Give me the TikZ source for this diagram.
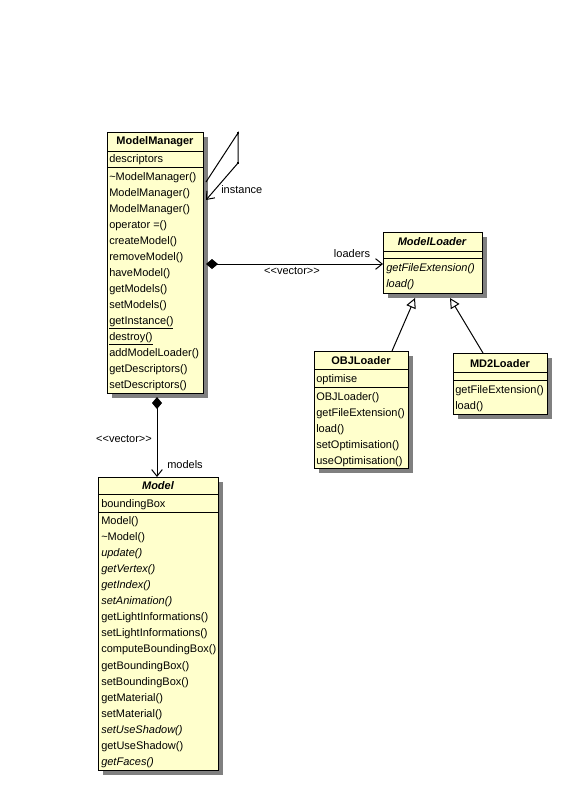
\documentclass[tikz,border=0pt]{standalone}
\usepackage{fontspec}
\setmainfont{Liberation Sans}
\usetikzlibrary{arrows.meta,shadows}
\definecolor{clsfill}{RGB}{255,255,204}
\definecolor{shadowgray}{RGB}{128,128,128}
\newcommand\crow[4]{\node[rowtxt] (#1) at (#2,{#3+4}) {#4};}
\newcommand\ctitle[4]{\node[titletxt] (#1) at (#2,{#3+4}) {#4};}
\newcommand\clsbox[5]{\node[cls, minimum width={(#4-#2)*0.75pt}, minimum height={(#5-#3)*0.75pt}] (#1) at (#2,#3) {};}
\newcommand\csep[3]{\draw[sepline] (#1,#3) -- (#2,#3);}
\newcommand\stereovec{<\kern0pt<vector>\kern0pt>}
\begin{document}
\begin{tikzpicture}[x=0.75pt,y=-0.75pt,
  cls/.style={draw=black, line width=0.75pt, fill=clsfill, anchor=north west, inner sep=0pt,
    drop shadow={shadow xshift=3pt, shadow yshift=-3pt, opacity=1, fill=shadowgray}},
  sepline/.style={line width=0.75pt, draw=black},
  rowtxt/.style={anchor=base west, inner sep=0pt, font=\fontsize{8.25}{10}\selectfont},
  titletxt/.style={anchor=base, inner sep=0pt, font=\fontsize{8.25}{10}\selectfont\bfseries},
  lbl/.style={anchor=base, inner sep=0pt, font=\fontsize{8.25}{10}\selectfont},
  conn/.style={line width=0.75pt, draw=black},
  openarr/.style={-{Straight Barb[length=5pt,width=8pt]}},
  compo/.style={{Diamond[length=9pt,width=7.5pt]}-{Straight Barb[length=5pt,width=8pt]}},
  gener/.style={-{Triangle[open,length=7.5pt,width=7.5pt,fill=white]}}
]
\useasboundingbox (0,0) rectangle (562,786);
\fill[white] (0,0) rectangle (562,786);

% ModelManager
\clsbox{mm}{107}{132}{203}{393}
\csep{107}{203}{151}
\csep{107}{203}{167}
\ctitle{mmt}{155}{140}{ModelManager}
\crow{mma}{109}{158}{descriptors}
\crow{mm1}{109}{176}{\textasciitilde ModelManager()}
\crow{mm2}{109}{192}{ModelManager()}
\crow{mm3}{109}{208}{ModelManager()}
\crow{mm4}{109}{224}{operator =()}
\crow{mm5}{109}{240}{createModel()}
\crow{mm6}{109}{256}{removeModel()}
\crow{mm7}{109}{272}{haveModel()}
\crow{mm8}{109}{288}{getModels()}
\crow{mm9}{109}{304}{setModels()}
\crow{mm10}{109}{320}{\underline{getInstance()}}
\crow{mm11}{109}{336}{\underline{destroy()}}
\crow{mm12}{109}{352}{addModelLoader()}
\crow{mm13}{109}{368}{getDescriptors()}
\crow{mm14}{109}{384}{setDescriptors()}

% ModelLoader
\clsbox{ml}{383}{232}{482}{293}
\csep{383}{482}{251}
\csep{383}{482}{258}
\ctitle{mlt}{432}{241}{\itshape ModelLoader}
\crow{ml1}{386}{267}{\itshape getFileExtension()}
\crow{ml2}{386}{283}{\itshape load()}

% OBJLoader
\clsbox{obj}{314}{351}{408}{468}
\csep{314}{408}{369}
\csep{314}{408}{387}
\ctitle{objt}{361}{360}{OBJLoader}
\crow{obja}{316}{378}{optimise}
\crow{obj1}{316}{396}{OBJLoader()}
\crow{obj2}{316}{412}{getFileExtension()}
\crow{obj3}{316}{428}{load()}
\crow{obj4}{316}{444}{setOptimisation()}
\crow{obj5}{316}{460}{useOptimisation()}

% MD2Loader
\clsbox{md}{453}{353}{547}{414}
\csep{453}{547}{372}
\csep{453}{547}{380}
\ctitle{mdt}{500}{363}{MD2Loader}
\crow{md1}{455}{389}{getFileExtension()}
\crow{md2}{455}{405}{load()}

% Model
\clsbox{mo}{98}{477}{218}{770}
\csep{98}{218}{494}
\csep{98}{218}{512}
\ctitle{mot}{158}{485}{\itshape Model}
\crow{moa}{101}{503}{boundingBox}
\crow{mo1}{101}{520}{Model()}
\crow{mo2}{101}{536}{\textasciitilde Model()}
\crow{mo3}{101}{552}{\itshape update()}
\crow{mo4}{101}{568}{\itshape getVertex()}
\crow{mo5}{101}{584}{\itshape getIndex()}
\crow{mo6}{101}{600}{\itshape setAnimation()}
\crow{mo7}{101}{616}{getLightInformations()}
\crow{mo8}{101}{632}{setLightInformations()}
\crow{mo9}{101}{648}{computeBoundingBox()}
\crow{mo10}{101}{665}{getBoundingBox()}
\crow{mo11}{101}{681}{setBoundingBox()}
\crow{mo12}{101}{697}{getMaterial()}
\crow{mo13}{101}{713}{setMaterial()}
\crow{mo14}{101}{729}{\itshape setUseShadow()}
\crow{mo15}{101}{745}{getUseShadow()}
\crow{mo16}{101}{761}{\itshape getFaces()}

% self association
\coordinate (sa) at (206,182);
\coordinate (sb) at (238,133);
\coordinate (sc) at (238,163);
\coordinate (sd) at (206,200);
\draw[conn, openarr] (sa) -- (sb) -- (sc) -- (sd);
\fill (237,132) rectangle (239,134);
\fill (237,162) rectangle (239,164);
\crow{lblinst}{221}{189}{instance}

% composition ModelManager -> ModelLoader
\coordinate (ca) at (206,264);
\coordinate (cb) at (ml.west |- ca);
\draw[conn, compo] (ca) -- (cb);
\node[lbl] (lv1) at (292,274) {\stereovec};
\node[lbl] (lload) at (352,257) {loaders};

% composition ModelManager -> Model
\coordinate (da) at (157,397);
\coordinate (db) at (da |- mo.north);
\draw[conn, compo] (da) -- (db);
\node[lbl] (lv2) at (124,442) {\stereovec};
\crow{lmod}{167}{464}{models}

% generalizations
\coordinate (ga) at (392,351);
\coordinate (gb) at (415,298);
\coordinate (gc) at (483,353);
\coordinate (gd) at (450,298);
\draw[conn, gener] (ga) -- (gb);
\draw[conn, gener] (gc) -- (gd);
\end{tikzpicture}
\end{document}
